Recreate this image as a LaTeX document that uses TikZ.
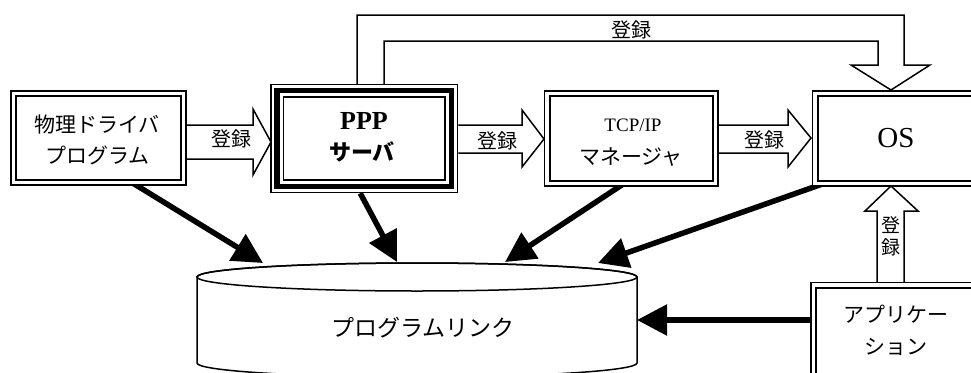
\documentclass[tikz,border=0pt]{standalone}
\usepackage{fontspec}
\setmainfont{Liberation Serif}
\newfontfamily\jp{Noto Sans CJK JP}
\usetikzlibrary{arrows.meta,calc}
\begin{document}
\begin{tikzpicture}[x=1pt,y=-1pt,
  dbox/.style={draw, double, double distance=3.4pt, line width=1.8pt, fill=white, inner sep=0pt},
  blk/.style={draw, line width=1.5pt, fill=white, line join=miter},
  thk/.style={line width=5.5pt, -{Triangle[length=30pt,width=30pt]}},
  jt/.style={font=\jp\fontsize{#1}{#1}\selectfont, inner sep=0pt},
  lt/.style={font=\fontsize{#1}{#1}\selectfont, inner sep=0pt}]
\useasboundingbox (0,0) rectangle (971,372);
\clip (0,0) rectangle (971,372);

% cylinder
\draw[line width=1.5pt, fill=white] (197,277) -- (197,363)
  arc[start angle=180, end angle=0, x radius=220, y radius=14] -- (637,277)
  arc[start angle=0, end angle=-180, x radius=220, y radius=14] -- cycle;
\draw[line width=1.5pt] (417,277) ellipse[x radius=220, y radius=14];
\node[jt=23] (cyl) at (423,328) {プログラムリンク};
\coordinate (e1) at (263,263);
\coordinate (e2) at (397,262);
\coordinate (e3) at (505,262);
\coordinate (e4) at (598,263);
\coordinate (e5) at (637,320);

% box nodes (positions)
\node[dbox, minimum width=170pt, minimum height=89pt] (b1) at (98.6,138.2) {};
\node[draw, line width=1.6pt, fill=white, minimum width=186.5pt, minimum height=108.2pt, inner sep=0pt] (b2) at (364.25,138.4) {};
\node[dbox, minimum width=168.2pt, minimum height=89.6pt] (b3) at (631.1,138.4) {};
\node[dbox, minimum width=165pt, minimum height=89.6pt] (b4) at (897.5,138.4) {};
\node[dbox, minimum width=166.5pt, minimum height=145pt] (app) at (896.75,357.5) {};

% block arrows (drawn, then boxes redrawn on top)
\begin{scope}
\draw[blk] (b1.east |- 0,125) -- (253,125) -- (253,109) -- (271,142) -- (253,175) -- (253,159) -- (b1.east |- 0,159);
\draw[blk] (b2.east |- 0,125) -- (522,125) -- (522,110) -- (544,139) -- (522,167) -- (522,153) -- (b2.east |- 0,153);
\draw[blk] (b3.east |- 0,125) -- (788,125) -- (788,110) -- (811,138) -- (788,167) -- (788,153) -- (b3.east |- 0,153);
\draw[blk] (357,90) -- (357,15) -- (904,15) -- (904,65) -- (930,65) -- (891,90) -- (851,65) -- (878,65) -- (878,41) -- (384,41) -- (384,90);
\draw[blk] (877,290) -- (877,211) -- (865,211) -- (891,186) -- (918,211) -- (904,211) -- (904,290);
\end{scope}

% thick arrows
\draw[thk] ($(b1.south)+(35,0)$) -- (e1);
\draw[thk] ($(b2.south)+(-4,0)$) -- (e2);
\draw[thk] ($(b3.south)+(-8,0)$) -- (e3);
\draw[thk] ($(b4.south west)+(8,0)$) -- (e4);
\draw[thk] ($(app.west)+(0,-37.5)$) -- (e5);

% boxes on top
\node[dbox, minimum width=170pt, minimum height=89pt] at (b1) {};
\node[draw, line width=1.6pt, fill=white, minimum width=186.5pt, minimum height=108.2pt, inner sep=0pt] at (b2) {};
\draw[line width=5.5pt] ($(b2.north west)+(7,7)$) rectangle ($(b2.south east)+(-7,-7)$);
\draw[line width=1.6pt] ($(b2.north west)+(13.3,13.3)$) rectangle ($(b2.south east)+(-13.3,-13.3)$);
\node[dbox, minimum width=168.2pt, minimum height=89.6pt] at (b3) {};
\node[dbox, minimum width=165pt, minimum height=89.6pt] at (b4) {};
\node[dbox, minimum width=166.5pt, minimum height=145pt] at (app) {};

% texts
\node[jt=21] (t1a) at (97,125) {物理ドライバ};
\node[jt=21] (t1b) at (97.5,155) {プログラム};
\node[lt=26, font=\bfseries\fontsize{26}{26}\selectfont] (t2a) at (364,121) {PPP};
\node[jt=22, font=\jp\bfseries\fontsize{22}{22}\selectfont] (t2b) at (362,152) {サーバ};
\node[lt=19] (t3a) at (633,125) {TCP/IP};
\node[jt=21] (t3b) at (631,157) {マネージャ};
\node[lt=29] (t4) at (896,138) {OS};
\node[jt=21] (t5a) at (896,314) {アプリケー};
\node[jt=21] (t5b) at (896,347) {ション};

% arrow labels
\node[jt=20] (l12) at (231,139) {登録};
\node[jt=20] (l23) at (497,141) {登録};
\node[jt=20] (l34) at (764,140) {登録};
\node[jt=20] (ltop) at (631,30) {登録};
\node[jt=19] (lv1) at (891,225) {登};
\node[jt=19] (lv2) at (891,247) {録};
\end{tikzpicture}
\end{document}
